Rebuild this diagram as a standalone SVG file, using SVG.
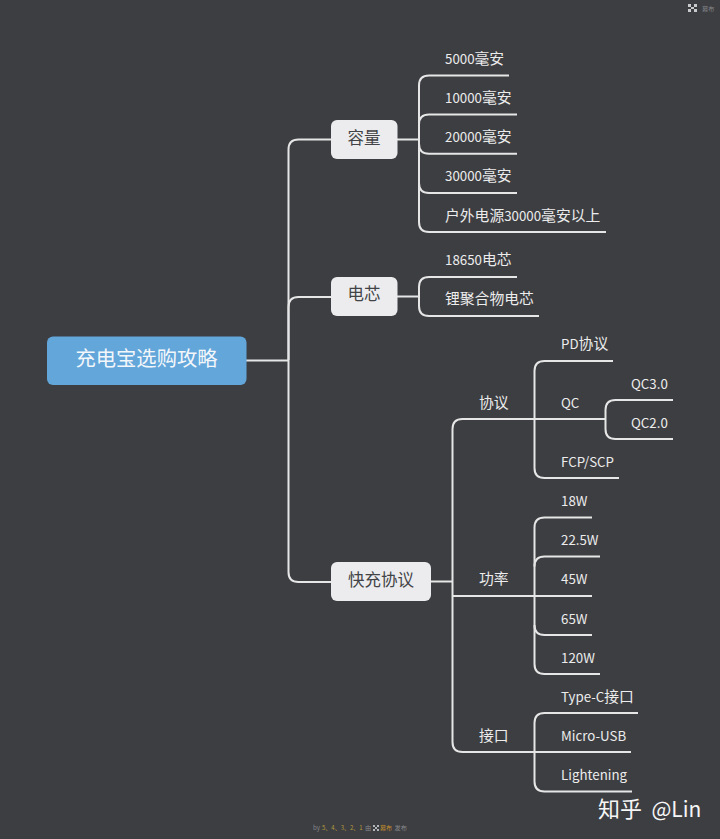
<svg xmlns="http://www.w3.org/2000/svg" width="720" height="839" viewBox="0 0 720 839">
<style>
text{font-family:"Noto Sans CJK SC","Noto Sans",sans-serif}
.c{fill:none;stroke:#e6e6e6;stroke-width:2;stroke-linecap:butt}
.n{fill:#ececee}
.b{font-size:16.5px;fill:#424346;text-anchor:middle}
.l{font-size:13.3px;fill:#ececec}
.z{font-size:14.8px}
.f{font-size:6.2px;fill:#85868a}
.y{font-size:6px;fill:#b39a3c}
</style>
<rect width="720" height="839" fill="#3d3e42"/>
<g id="connectors">
<path class="c" d="M246 360.500H288.500"/>
<path class="c" d="M331 139.500H298.500Q288.500 139.500 288.500 149.500V572Q288.500 582 298.500 582H331"/>
<path class="c" d="M331 297H298.500Q288.500 297 288.500 307V360"/>
<path class="c" d="M397 139.500H419"/>
<path class="c" d="M509 75.500H429Q419 75.500 419 85.500V222Q419 232 429 232H606"/>
<path class="c" d="M517 114.500H429Q419 114.500 419 124.500V143.700Q419 153.700 429 153.700H517"/>
<path class="c" d="M419 183Q419 193 429 193H517"/>
<path class="c" d="M397 296.500H419"/>
<path class="c" d="M517 277H429Q419 277 419 287V306Q419 316 429 316H539"/>
<path class="c" d="M431 581.500H452.500"/>
<path class="c" d="M605.500 419H462.500Q452.500 419 452.500 429V742Q452.500 752 462.500 752H631"/>
<path class="c" d="M613 361H544.500Q534.500 361 534.500 371V468Q534.500 478 544.500 478H619"/>
<path class="c" d="M673 400H615.500Q605.500 400 605.500 410V429Q605.500 439 615.500 439H673"/>
<path class="c" d="M452.500 596H592"/>
<path class="c" d="M592 517.500H544.500Q534.500 517.500 534.500 527.500V664Q534.500 674 544.500 674H600"/>
<path class="c" d="M600 556.500H544.500Q534.500 556.500 534.500 566.500"/>
<path class="c" d="M534.500 625Q534.500 635 544.500 635H592"/>
<path class="c" d="M638 713H544.500Q534.500 713 534.500 723V781.500Q534.500 791.500 544.500 791.500H632"/>
</g>
<g id="root"><rect x="47" y="336.500" width="199.500" height="48.500" rx="6" fill="#62a6da"/><text x="146.500" y="366" font-size="20.300" fill="#f4f7fa" text-anchor="middle">充电宝选购攻略</text></g>
<g id="n-capacity"><rect class="n" x="331" y="120" width="66.500" height="39" rx="6"/><text class="b" x="364" y="144">容量</text></g>
<g id="n-cell"><rect class="n" x="331" y="277" width="66.500" height="39" rx="6"/><text class="b" x="364" y="300">电芯</text></g>
<g id="n-fast"><rect class="n" x="331" y="562" width="100" height="39" rx="6"/><text class="b" x="381" y="586">快充协议</text></g>
<g id="leaf-1"><text class="l" x="445" y="64">5000<tspan class="z">毫安</tspan></text></g>
<g id="leaf-2"><text class="l" x="445" y="103">10000<tspan class="z">毫安</tspan></text></g>
<g id="leaf-3"><text class="l" x="445" y="142">20000<tspan class="z">毫安</tspan></text></g>
<g id="leaf-4"><text class="l" x="445" y="181">30000<tspan class="z">毫安</tspan></text></g>
<g id="leaf-5"><text class="l" x="445" y="221"><tspan class="z">户外电源</tspan>30000<tspan class="z">毫安以上</tspan></text></g>
<g id="leaf-6"><text class="l" x="445" y="265">18650<tspan class="z">电芯</tspan></text></g>
<g id="leaf-7"><text class="l z" x="445" y="304">锂聚合物电芯</text></g>
<g id="t-protocol"><text class="l z" x="479" y="408">协议</text></g>
<g id="t-power"><text class="l z" x="479" y="584">功率</text></g>
<g id="t-port"><text class="l z" x="479" y="741">接口</text></g>
<g id="p-1"><text class="l" x="561" y="349">PD<tspan class="z">协议</tspan></text></g>
<g id="p-2"><text class="l" x="561" y="408">QC</text></g>
<g id="p-3"><text class="l" x="561" y="467">FCP/SCP</text></g>
<g id="q-1"><text class="l" x="631" y="389">QC3.0</text></g>
<g id="q-2"><text class="l" x="631" y="428">QC2.0</text></g>
<g id="w-1"><text class="l" x="561" y="506">18W</text></g>
<g id="w-2"><text class="l" x="561" y="545">22.5W</text></g>
<g id="w-3"><text class="l" x="561" y="584">45W</text></g>
<g id="w-4"><text class="l" x="561" y="624">65W</text></g>
<g id="w-5"><text class="l" x="561" y="663">120W</text></g>
<g id="i-1"><text class="l" x="561" y="702">Type-C<tspan class="z">接口</tspan></text></g>
<g id="i-2"><text class="l" x="561" y="741">Micro-USB</text></g>
<g id="i-3"><text class="l" x="561" y="780">Lightening</text></g>
<text x="598" y="817" font-size="22" fill="#f6f6f6">知乎<tspan x="651.500" font-size="21">@Lin</tspan></text>
<path d="M688 4h3v3h-3zM694 4h3v3h-3zM688 9h3v3h-3zM694 9h3v3h-3zM691 7h3v2h-3z" fill="#c9cacc"/>
<text class="f" x="702" y="10.500">幕布</text>
<text class="f" x="313" y="830">by</text>
<text class="y" x="322" y="830">5、4、3、2、1</text>
<text class="f" x="365" y="830">由</text>
<path d="M373 825h2v2h-2zM377 825h2v2h-2zM373 829h2v2h-2zM377 829h2v2h-2zM375 827h2v2h-2z" fill="#b5b6ba"/>
<text class="y" x="380" y="830" style="fill:#c58f2c">幕布</text>
<text class="f" x="394.500" y="830">发布</text>
</svg>
